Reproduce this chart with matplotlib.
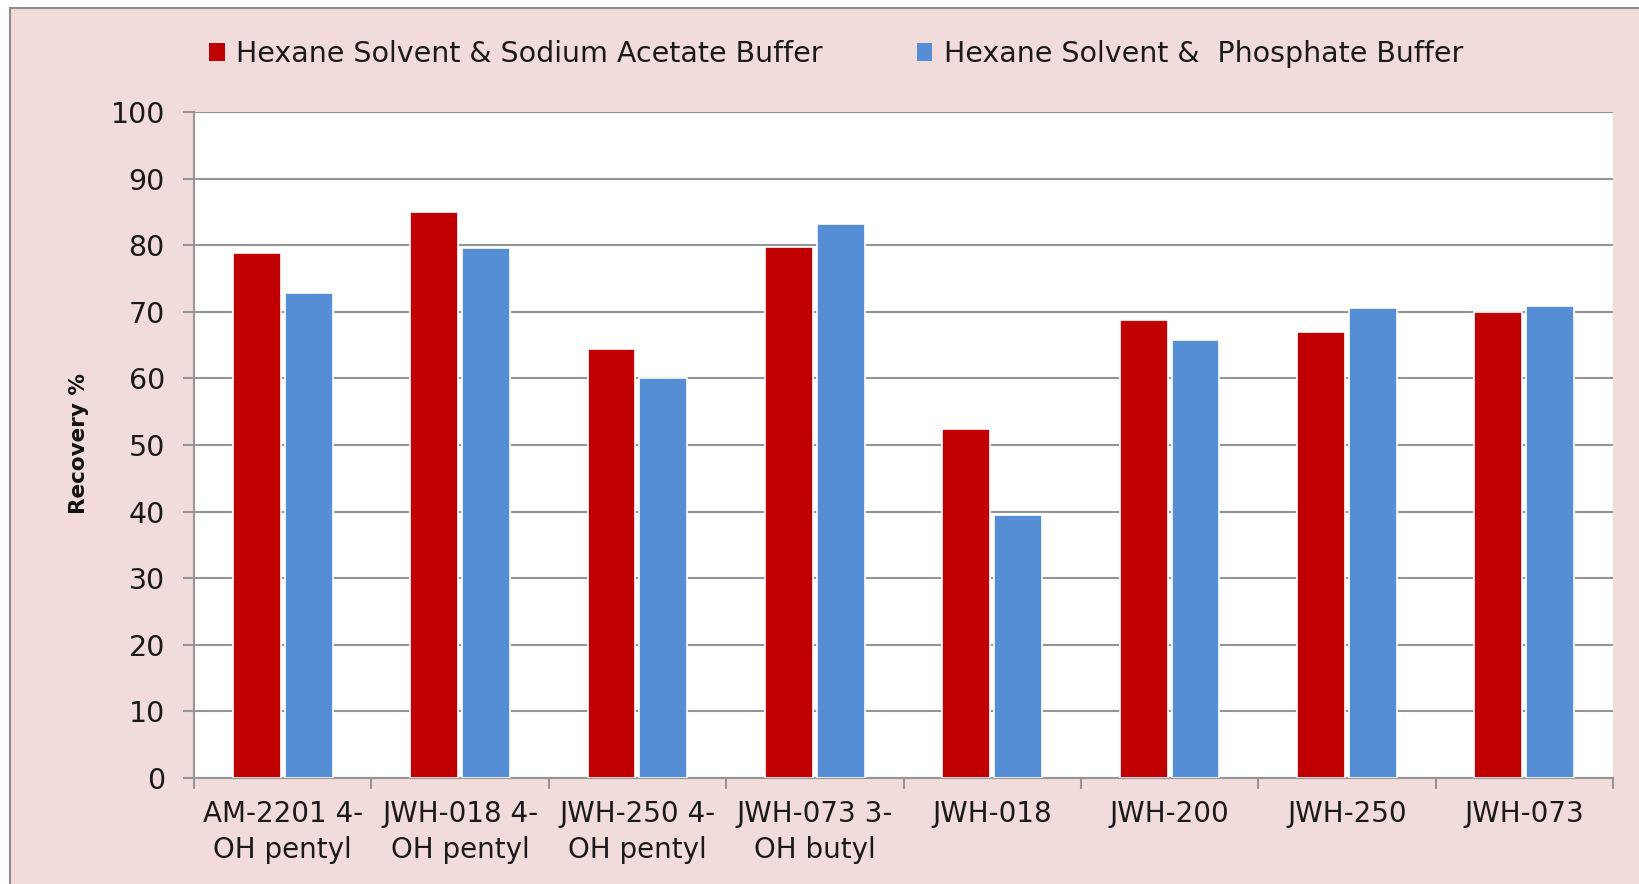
import matplotlib
matplotlib.use('Agg')
import matplotlib.pyplot as plt
import numpy as np
from matplotlib.patches import Rectangle, Patch

# Recovery of each analyte under the two extraction conditions
compounds = ['AM-2201 4-\nOH pentyl', 'JWH-018 4-\nOH pentyl', 'JWH-250 4-\nOH pentyl',
             'JWH-073 3-\nOH butyl', 'JWH-018', 'JWH-200', 'JWH-250', 'JWH-073']
acetate = [78.8, 85.0, 64.4, 79.8, 52.4, 68.8, 66.9, 69.9]
phosphate = [72.8, 79.6, 60.1, 83.2, 39.5, 65.8, 70.6, 70.8]
series_names = ['Hexane Solvent & Sodium Acetate Buffer', 'Hexane Solvent &  Phosphate Buffer']

red = '#C00000'
blue = '#558ED5'
pink = '#F2DCDB'
grey = '#8C8C8C'

plt.rcParams['font.family'] = ['DejaVu Sans']

W, H = 1639, 884
fig = plt.figure(figsize=(W / 100, H / 100), dpi=100)
fig.patch.set_facecolor('white')

# chart area background with thin border
fig.patches.append(Rectangle((10 / W, -0.01), 1.0, 1 - 8 / H + 0.01, transform=fig.transFigure,
                             facecolor=pink, edgecolor=grey, lw=1.5, zorder=-5))

ax = fig.add_axes([194 / W, 1 - 778 / H, (1613 - 194) / W, (778 - 112) / H])
ax.set_facecolor('white')

x = np.arange(len(compounds))
bw = 0.27
off = 0.146
ax.bar(x - off, acetate, bw, color=red, edgecolor='white', linewidth=1.2, zorder=3)
ax.bar(x + off, phosphate, bw, color=blue, edgecolor='white', linewidth=1.2, zorder=3)

ax.set_xlim(-0.5, len(compounds) - 0.5)
ax.set_ylim(0, 100)
ax.set_yticks(range(0, 101, 10))
ax.yaxis.grid(True, color='#959595', linewidth=1.5, zorder=0)
ax.set_axisbelow(True)

for s in ['top', 'right']:
    ax.spines[s].set_visible(False)
for s in ['left', 'bottom']:
    ax.spines[s].set_color('#959595')
    ax.spines[s].set_linewidth(1.5)

ax.set_xticks(x)
ax.set_xticklabels(compounds, fontsize=20, color='#1A1A1A', linespacing=1.35)
ax.set_xticks(np.arange(-0.5, len(compounds)), minor=True)
ax.tick_params(axis='x', which='major', length=0, pad=16)
ax.tick_params(axis='x', which='minor', length=8, width=1.5, color='#959595')
ax.tick_params(axis='y', length=8, width=1.5, color='#959595', labelsize=20.5,
               labelcolor='#1A1A1A', pad=13)

fig.text(79 / W, 1 - 444 / H, 'Recovery %', rotation=90, ha='center', va='center',
         fontsize=15.5, fontweight='bold', color='#111111')

handles = [Patch(facecolor=red, edgecolor='none'), Patch(facecolor=blue, edgecolor='none')]
fig.legend(handles, series_names, loc='center', bbox_to_anchor=(836 / W, 1 - 54 / H), ncol=2,
           frameon=False, fontsize=20.5, handlelength=0.55, handleheight=0.6,
           handletextpad=0.4, columnspacing=3.3, labelcolor='#1A1A1A')

fig.savefig('out.png', dpi=100, facecolor=fig.get_facecolor())
